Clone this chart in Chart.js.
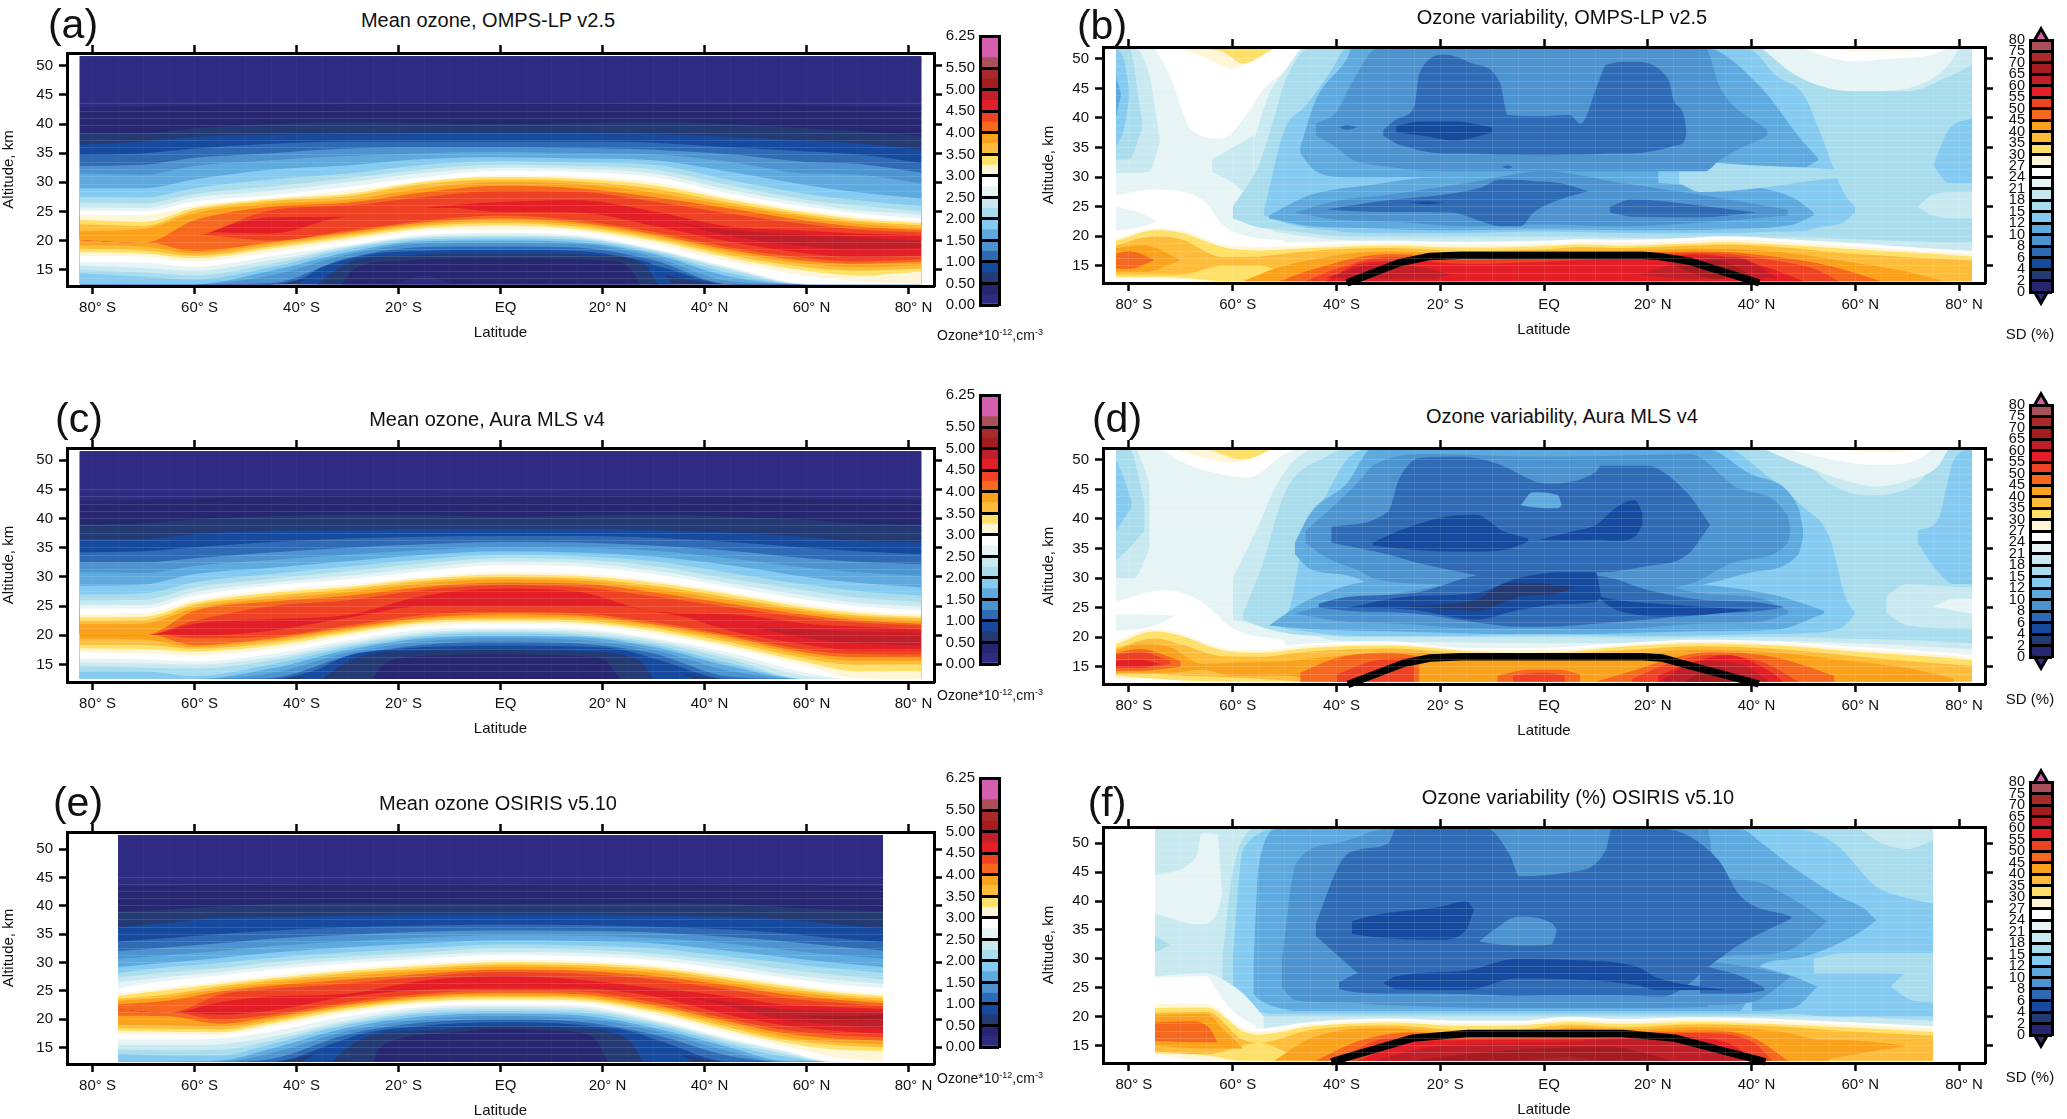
<!DOCTYPE html>
<html>
<head>
<meta charset="utf-8">
<script src="https://cdn.jsdelivr.net/npm/chart.js@4"></script>
<style>
body{margin:0;background:#fff;width:2067px;height:1119px;overflow:hidden;font-family:"Liberation Sans",sans-serif;color:#111}
canvas{position:absolute}
.t{position:absolute;transform:translate(-50%,-50%);white-space:nowrap}
sup{font-size:9px;vertical-align:5px;line-height:0}
</style>
</head>
<body>
<script>
// colour bands, low to high
var bandColours = ['#2e2b80','#272671','#233a72','#164a9f','#2f6ab5','#4d93cf','#5eaade','#85caf0','#a9dded','#c9e9f1','#e6f4f5','#ffffff','#fff6d8','#ffe169','#fdbd3a','#fba21c','#f7681f','#ef4123','#e31e26','#c01f2a','#a41c20','#a82a2a','#a9505a','#d35fae'];
var ozoneLevels = [0,.25,.5,.75,1,1.25,1.5,1.75,2,2.25,2.5,2.75,3,3.25,3.5,3.75,4,4.25,4.5,4.75,5,5.25,5.5,5.75,6.25];
var ozoneTicks = [0,.5,1,1.5,2,2.5,3,3.5,4,4.5,5,5.5,6.25];
var sdTicks = [0,2,4,6,8,10,12,15,18,21,24,27,30,35,40,45,50,55,60,65,70,75,80];
var latTicks = [-80,-60,-40,-20,0,20,40,60,80];
var latLabels = ['80° S','60° S','40° S','20° S','EQ','20° N','40° N','60° N','80° N'];
var altTicks = [15,20,25,30,35,40,45,50];

// panel (a): altitude of each ozone contour (every 0.25) below and above the maximum
var aLat = [-82.5,-70,-60,-45,-30,-15,0,15,30,45,60,70,82.5];
var aLower = [
[12.5,12.5,12.5,12.5,12.5,12.5,12.5,12.5,12.5,12.5,12.5,12.5,12.5],
[12.5,12.5,12.5,12.5,13,16.8,16.9,16.8,12.5,12.5,12.5,12.5,12.5],
[12.5,12.5,12.5,12.5,15.5,17.7,17.8,17.6,14.5,12.5,12.5,12.5,12.5],
[12.5,12.5,12.5,12.5,16.2,18.2,18.4,18.2,15.8,12.5,12.5,12.5,12.5],
[12.5,12.5,12.5,12.7,17,18.9,19,18.8,16.6,12.5,12.5,12.5,12.5],
[12.5,12.5,12.5,14,17.6,19.5,19.6,19.4,17.2,13,12.5,12.5,12.5],
[12.5,12.5,12.5,14.8,18,19.9,20,19.7,17.7,13.8,12.5,12.5,12.5],
[14.4,13.8,13.3,15.4,18.5,20.2,20.4,20.1,18,14.4,12.5,12.5,12.5],
[15,14.5,14,16,18.8,20.5,20.7,20.4,18.3,14.9,12.5,12.5,12.5],
[15.7,15.3,14.8,16.6,19,20.7,21,20.6,18.45,15.2,12.5,12.5,12.5],
[16.3,16.2,15.5,17.3,19.2,21,21.3,20.9,18.6,15.4,12.6,12.5,12.5],
[17.4,17.2,16.4,18,19.9,21.7,22,21.6,19.4,16.4,14,13,12.5],
[18,17.8,17,18.6,20.4,22.1,22.6,22,20,17,14.8,14,14.7],
[18.6,18.3,17.4,19,20.8,22.5,23,22.4,20.4,17.5,15.4,14.8,15.2],
[19.2,19,17.8,19.4,21.1,22.8,23.4,22.8,20.8,18,16,15.4,15.8],
[20.5,20,18.2,19.7,21.4,23.1,23.8,23.1,21.1,18.4,16.5,16,16.3],
[20.5,20,21,20,21.7,23.4,24.3,23.5,21.5,18.8,17,16.4,16.8],
[20.5,20,21.5,21.2,24.5,26,24.9,24.8,22.5,19.8,17.8,17.2,17.4],
[20.5,20,21.5,22.5,24.5,26,26,25.8,24,20.8,19,18.5,18.7]];
var aUpper = [
[20.5,20,21.5,22.5,24.5,26,26,25.8,24,21.8,21,20.6,20],
[20.5,20,21.5,24,24.5,26,26.6,26.9,25,22.4,21.7,21.2,20.9],
[20.5,20,21,25.2,26,27.5,28.5,28.4,26.7,24.6,22.8,21.9,21.4],
[20.5,20,23.5,25.8,26.5,28.3,29.4,29,27.5,25.5,23.4,22.4,21.8],
[21.6,22,24.7,26.3,27,29,30,29.7,28.2,26,24,22.9,22.2],
[22.8,22.5,25.2,26.8,27.6,29.7,30.5,30.2,28.9,26.5,24.4,23.3,22.6],
[23.6,23.2,25.6,27.1,28,30.1,30.9,30.6,29.5,27,24.8,23.7,23],
[24.4,24.4,26,27.3,28.6,30.2,31.2,31,30,27.4,25.2,24.1,23.3],
[25.1,25,26.7,27.8,29.2,30.9,32,31.8,30.9,28.1,25.8,24.7,23.8],
[25.7,25.6,27.4,28.5,30,31.6,32.5,32.3,31.5,28.7,26.4,25.2,24.4],
[26.5,26.4,28,29.3,30.7,32.2,33,32.8,32.2,29.5,27,26,25],
[27.5,27.4,29,30.5,31.5,33,33.6,33.4,33,30.4,28,26.9,25.9],
[29,29,30.5,32.2,32.9,34,34.3,34.1,33.8,31.8,29.5,28.3,27.2],
[31.5,31.3,32.8,33.8,34.5,35,35.2,35,34.8,33.5,31.5,31.3,29.8],
[32.8,33,34.2,35,35.8,36,36,35.9,35.6,34.8,33.5,33.2,31.7],
[34.7,35,35.8,36.6,37,37,37,37,36.8,36,35.3,34.8,33.3],
[36.5,37,37.8,38.2,38.4,38.5,38.5,38.5,38.3,37.8,37.2,36.7,35.6],
[38.5,38.5,39.3,40,40.4,40.2,40,40.2,40.4,40,39.3,38.8,38],
[42.8,43,43.2,43.3,43.4,43.6,43.5,43.6,43.4,43.3,43.2,43,42.9]];
// low-ozone pocket at the bottom of each mean panel, same format as the SD regions
var aPocket = [
[4,[-40,-36,-32,-25,-15,0,15,25,30,34],[12.5,15,16.3,17.7,18.2,18.4,18.2,17,15.8,12.5],12.5],
[2,[-36,-33,-29,-20,0,20,28,31],[12.5,14.5,16.5,17.4,17.8,17.5,16,12.5],12.5],
[0,[-31,-29.5,-27,-20,0,20,25,27.5],[12.5,14.5,15.8,16.5,16.9,16.6,15.5,12.5],12.5],
[-1,[-21,-15,-9],[12.5,14,12.5],12.5]];

// panel (c)
var cLat = aLat;
var cLower = [
[12.5,12.5,12.5,12.5,12.5,12.5,12.5,12.5,12.5,12.5,12.5,12.5,12.5],
[12.5,12.5,12.5,12.5,12.5,16.2,16.8,16.5,12.5,12.5,12.5,12.5,12.5],
[12.5,12.5,12.5,12.5,14,17,17.5,17.2,14.5,12.5,12.5,12.5,12.5],
[12.5,12.5,12.5,12.5,15.5,17.7,18.2,17.9,16,12.5,12.5,12.5,12.5],
[12.5,12.5,12.5,12.7,16.4,18.4,18.9,18.6,16.9,12.9,12.5,12.5,12.5],
[12.5,12.5,12.5,13.5,17,19,19.5,19.2,17.5,13.9,12.5,12.5,12.5],
[12.5,12.5,12.5,14.3,17.5,19.5,19.9,19.7,18,14.7,12.5,12.5,12.5],
[13.8,13.8,13,15,17.9,19.9,20.3,20,18.4,15.2,12.5,12.5,12.5],
[14.7,14.5,14.3,15.7,18.3,20.2,20.6,20.3,18.8,15.9,12.5,12.5,12.5],
[15.3,15.2,15,16.2,18.7,20.5,20.9,20.7,19.2,16.4,13,12.5,12.5],
[16,15.9,15.5,16.8,19.1,21,21.3,21.1,19.5,17,13.6,12.5,12.5],
[17.1,16.9,16.6,17.6,19.8,21.6,22,21.8,20.3,17.8,14.8,12.6,12.5],
[17.8,17.6,17.2,18.2,20.3,22.1,22.4,22.2,20.8,18.3,15.4,13.8,13.9],
[18.4,18.4,17.7,18.7,20.7,22.4,22.8,22.6,21.2,18.8,16,14.9,15],
[19.4,19.3,18,19.1,21,22.7,23.2,23,21.6,19.3,16.6,15.6,15.6],
[20.4,20.4,18.3,19.4,21.3,23,23.6,23.4,21.9,19.7,17,16.2,16.2],
[20.4,20.4,19.5,19.8,21.7,23.5,24,23.8,22.3,20,17.5,16.8,16.7],
[20.4,20.4,20,20.8,23,25,25,25,24.5,20.8,18.4,17.4,17.4],
[20.4,20.4,21,21.8,23.5,26.3,26.5,26.5,24.5,22.3,19.5,18.6,18.3]];
var cUpper = [
[20.4,20.4,21,21.8,23.5,26.3,26.5,26.5,24.5,22.3,21,20.6,20.4],
[20.4,20.4,22,22.8,23.5,26.8,28,27.5,24.5,23.6,22,21.5,21],
[20.4,20.4,22.5,25,26,27.8,28.6,28.3,26.7,24.8,23,22.2,21.7],
[20.4,20.4,24.2,25.8,26.8,28.3,29,28.9,27.4,25.4,23.5,22.6,22],
[21.9,22,24.7,26.3,27.4,28.9,29.6,29.4,28,26,24,23,22.5],
[22.5,22.6,25.2,26.8,27.9,29.3,30,29.8,28.5,26.5,24.4,23.4,22.9],
[23.1,23.2,25.6,27.3,28.3,29.7,30.4,30.2,29,27,24.8,23.8,23.2],
[23.7,23.8,26.1,27.7,28.7,30,30.8,30.6,29.4,27.4,25.3,24.2,23.6],
[24.6,24.6,26.8,28.5,29.6,31,32,31.8,30.5,28.3,26.1,25,24.3],
[25.2,25.2,27.4,29,30.2,31.6,32.6,32.4,31.1,28.9,26.8,25.6,24.9],
[26,26.1,28.2,29.7,31,32.3,33.2,33,31.9,29.7,27.7,26.5,25.7],
[27,27.2,29.1,30.5,31.8,33,33.8,33.6,32.7,30.7,28.7,27.6,26.8],
[28.5,28.7,30.5,31.6,32.7,33.8,34.4,34.2,33.5,32,30,29,28.2],
[30.8,30.7,31.9,32.9,33.8,34.6,35.1,35,34.5,33.2,31.6,30.8,30.2],
[32.5,32.5,33.2,34.2,35,35.6,36,35.9,35.4,34.5,33.2,32.6,32.2],
[34.2,34.4,35.1,36,36.6,36.9,37,37,36.7,36,35,34.4,33.9],
[36.5,36.5,37.3,37.9,38,38.2,38.2,38.2,38,37.6,36.8,36.2,35.9],
[39,39.2,39.9,40.4,40.7,40.6,40.3,40.5,40.7,40.3,39.8,39.2,39],
[43,43.2,43.4,43.8,43.9,43.9,43.8,43.9,43.9,43.6,43.4,43.3,43.2]];
var cPocket = [
[4,[-39,-35,-30,-20,0,20,30,33.5,38],[12.5,14.5,16.5,17.7,18.2,17.9,16,14.5,12.5],12.5],
[2,[-35,-31,-27,-15,0,15,27,30],[12.5,15,16.5,17.4,17.6,17.3,15.8,12.5],12.5],
[0,[-25,-23.5,-20,-10,0,10,20,23.5],[12.5,14.5,16,16.6,16.8,16.6,16,12.5],12.5]];

// panel (e)
var eLat = [-75,-65,-55,-45,-30,-15,0,15,30,45,55,65,75];
var eLower = [
[12.5,12.5,12.5,12.5,12.5,12.5,12.5,12.5,12.5,12.5,12.5,12.5,12.5],
[12.5,12.5,12.5,12.5,12.5,17,18.2,17.8,12.5,12.5,12.5,12.5,12.5],
[12.5,12.5,12.5,12.5,15.5,18,18.8,18.4,15,12.5,12.5,12.5,12.5],
[12.5,12.5,12.5,12.5,16.5,18.8,19.4,19,16.5,12.5,12.5,12.5,12.5],
[12.5,12.5,12.5,13,17.3,19.4,20,19.6,17.3,13.5,12.5,12.5,12.5],
[12.5,12.5,12.5,14,17.9,20,20.5,20.2,18,14.3,12.5,12.5,12.5],
[12.5,12.5,12.7,14.8,18.5,20.5,21,20.7,18.5,15,12.7,12.5,12.5],
[13.9,13.6,13.6,15.6,19,21,21.4,21.2,19,15.5,13.5,12.5,12.5],
[14.6,14.5,14.6,16.2,19.4,21.4,21.8,21.6,19.4,16,14,12.5,12.5],
[15.4,15.4,15.6,16.8,19.8,21.8,22.2,22,19.7,16.3,14.4,12.5,12.5],
[16.4,16.4,16.6,17.8,20.5,22.2,22.6,22.4,20,16.6,14.6,12.6,12.5],
[17.4,17.3,17.2,18.7,21.1,22.7,23.1,22.9,20.8,17.5,15.4,13.4,12.5],
[17.9,17.8,17.7,19.2,21.6,23.1,23.5,23.3,21.3,18,16,14.7,14.4],
[18.4,18.3,18.2,19.6,22,23.5,23.9,23.7,21.7,18.5,16.5,15.5,15],
[19,18.9,18.7,20,22.3,23.8,24.2,24,22.1,19,17,16,15.6],
[20.6,20.5,19.2,20.4,22.6,24.1,24.6,24.4,22.5,19.5,17.6,16.6,16.2],
[22.2,21.5,20,20.8,23,24.5,25,24.9,23,20,18.2,17.2,16.8],
[22.2,21.5,20.8,21.5,24,25.2,25.4,25.4,24,20.7,19,18,17.4],
[22.2,21.5,22,22.5,24.5,25.8,26.5,26.3,25,22.2,20,19,18.3],
[22.2,21.5,22,22.5,24.5,25.8,26.5,26.3,25,23,21,20,19.8]];
var eUpper = [
[22.2,21.5,22,22.5,24.5,25.8,26.5,26.3,25,23,21,20.5,20.8],
[22.2,21.5,22,22.5,24.5,25.8,26.5,26.3,25,23,21.8,21.5,21.3],
[22.2,21.5,23,24,24.5,26.8,27.6,27,25.5,24,22.6,22.2,21.8],
[22.2,21.5,24.3,25.3,26.3,27.5,28.3,28,27,25.2,23.8,23,22.3],
[22.6,23.3,24.9,25.9,27,28,28.8,28.6,27.6,25.9,24.5,23.5,22.8],
[23.2,23.9,25.3,26.4,27.6,28.6,29.3,29.1,28.2,26.4,25,24,23.2],
[23.6,24.4,25.8,26.8,28.1,29,29.7,29.5,28.7,26.9,25.5,24.4,23.7],
[24.1,25.2,26.2,27.2,28.5,29.4,30.1,29.9,29.1,27.3,26,24.8,24.1],
[24.5,25.6,26.6,27.7,28.9,29.8,30.5,30.3,29.5,27.8,26.4,25.2,24.5],
[25.5,26.8,27.7,28.7,29.8,30.7,31.3,31.1,30.4,28.7,27.4,26.2,25.5],
[26.5,27.5,28.3,29.3,30.4,31.2,31.8,31.7,31,29.4,28,27,26.2],
[27.3,28.3,29,30,31,31.8,32.5,32.3,31.6,30.2,28.9,27.9,27],
[28.2,29.2,29.9,30.8,31.8,32.5,33.2,33,32.5,31,30,29,28.2],
[29.2,30,30.8,31.7,32.7,33.4,33.9,33.8,33.4,32,31,30,29.2],
[30.6,31.3,32,32.9,33.7,34.4,34.8,34.7,34.3,33.3,32.3,31.4,30.7],
[32,32.7,33.4,34.2,34.9,35.4,35.7,35.6,35.3,34.5,33.8,32.9,32.1],
[33.7,34.3,35,35.6,36.2,36.5,36.7,36.6,36.3,35.8,35.2,34.3,33.6],
[36.2,37,37.9,38,38.3,38.5,38.5,38.5,38.3,38,37.6,36.8,36],
[39,39.4,39.9,40.3,40.5,40.4,40.3,40.4,40.5,40.3,39.8,39.4,39],
[43.3,43.5,43.7,43.8,43.9,43.9,43.8,43.9,43.9,43.8,43.7,43.5,43.4]];
var ePocket = [
[4,[-39,-34,-28,-15,0,15,28,33,38],[12.5,15,17.2,18.8,19.4,19,17.2,15,12.5],12.5],
[2,[-33,-30,-25,-15,0,15,25,28],[12.5,15,17.3,18,18.8,18.4,16.5,12.5],12.5],
[0,[-25,-24,-20,-10,0,10,18,21],[12.5,14.5,16.5,17.6,18.3,18,17,12.5],12.5]];

// SD panels: [SD level, latitudes, upper altitude, lower altitude], painted in this order
var bTop = 51.8, bBot = 12.4;
var bHotLat = [-82.5,-75,-70,-62,-55,-45,-30,-15,0,7,15,25,35,45,60,70,82.5];
var bShapes = [
[21,[-82.5,82.5],[bTop,bTop],bBot],
[18,[-82.5,-79,-76,-74],[bTop,bTop,47,36],[30.7,30.7,31,36]],
[15,[-82.5,-80,-77.5],[bTop,bTop,40],[33,33,38]],
[12,[-82.5,-81,-80],[bTop,50,45],[35,38,43]],
[10,[-82.5,-81.5],[47,44],[40,44]],
[18,[-64,-60,-56],[33,35,37],[31,29,26]],
[18,[-56,-53,-50,-46,-40,-20,0,20,40,60,82.5],[36,44,48,bTop,bTop,bTop,bTop,bTop,bTop,bTop,bTop],[26,21.5,20.5,20,19.4,19.1,19.3,19,19,18.5,17.5]],
[15,[-60,-55,-52,-50,-45,-40,-20,0,20,40,46,50,60,70,78,82.5],[25,32,40,46,bTop,bTop,bTop,bTop,bTop,bTop,bTop,49,45,44.5,47,49],[23,21.5,21.2,21,20.5,20,19.8,19.9,19.7,19.8,19.8,19.8,19.5,19.2,19,19]],
[18,[72,75,80,82.5],[25,27,27.5,27.5],[25,23.5,23,23]],
[12,[-54,-50,-46,-41,-38,-20,0,20,39,45,50,53,58,60],[24,38,42,48,bTop,bTop,bTop,bTop,bTop,47,44,38,27,25],[23.5,22.3,21.5,21,20.7,20.5,20.8,20.5,20.6,20.8,20.9,21.5,22.5,24]],
[12,[75,78,82.5],[32,38,40],[32,29,29]],
[10,[-47,-44,-38,-37,-20,0,20,31,42,49,53],[35,43,50,bTop,bTop,bTop,bTop,bTop,45,37,33],[34,31,30,30,30,30,30,30,30,31,33]],
[10,[-53,-45,-35,-20,0,20,35,48,52],[23.5,27,28.5,30,30,30,29,26.5,24],[23,21.7,21.4,21,21.2,21,21.2,22,23.5]],
[12,[22,27,33,45,50,55],[31,31.7,31.5,30.8,30.5,30],[29,28.7,28.7,28.4,28,27]],
[15,[26,30,40,53,60],[31,32.5,32,31.5,31],[29,27.5,28,29.5,30]],
[8,[-44,-40,-37,-32,-20,0,20,31,34,43],[39,41,46,bTop,bTop,bTop,bTop,bTop,45,38],[37,35,33,32,31,31,31,31,33,37]],
[8,[-48,-40,-30,-15,0,15,30,47],[24,26,27,29,31,29,27,24.5],[24,22.8,22.5,21.7,22,21.7,22.3,23.5]],
[6,[-31,-28,-25,-24,-19,-14,-8.5,-7,0,5,7,10.5,12,17,24,25,27,27.5],[38,40,42,47.6,50.7,49.3,46,40.5,40.3,40.5,39,46,49,49.5,46.5,43,40.3,37.5],[37,35.5,34.8,34.5,34,34,33.8,33.8,33.7,33.8,33.8,33.9,34,34,35,35.3,36,37.5]],
[6,[-42,-31,-18,-12,-8.5,-4.5,-2,3,8.5],[24.5,26,27.2,28.3,29.6,29.5,29.3,29,27.6],[24.5,24.1,24,22.5,21.7,21.7,24,26.2,27.6]],
[6,[12.7,17,30,41],[25,26.2,25.2,24],[24,23.3,23.2,24]],
[6,[-39.5,-38,-36],[38.4,38.8,38.4],[38.4,38,38.4]],
[6,[-8,-7,-6],[31.7,32,31.7],[31.7,31.4,31.7]],
[4,[-28.5,-24,-17,-10],[38.6,39.4,39.4,38.4],[37.6,37.1,36.2,37.5]],
[4,[-26,-22.5,-19],[25.8,25.9,25.7],[25.7,25.4,25.7]],
[21,[42,48,55,62,72,78,80],bTop,[bTop,47.5,45,44.5,45.5,49,bTop]],
[24,[50,54,60,66,74,78],bTop,[bTop,50.5,49.5,50,50.5,bTop]],
[27,[55,60,70,73],bTop,[bTop,51.3,51.3,bTop]],
[24,[-75,-72,-68,-62,-57,-54,-50,-47],bTop,[bTop,47,38,36.5,41,45,48,bTop]],
[27,[-70,-66,-60,-55,-50],bTop,[bTop,50.5,48.3,51,bTop]],
[30,[-68,-62,-58,-52],bTop,[bTop,51.2,49.2,bTop]],
[24,[-82.5,-76,-70,-65,-62,-57,-50],[26.8,27.9,27.6,25.5,22,20,19.3],18],
[21,[-82.5,-78,-74.5],[25,24,22.5],[21,21.5,22.5]],
[24,bHotLat,[20,21.5,21.5,19.3,18.8,19,19.3,19,19.2,19.5,19.4,19.6,20,19.6,18.8,18.2,17.5],bBot],
[27,bHotLat,[19.6,21.3,21,18.6,18.2,18.5,18.8,18.6,18.7,19,18.9,19.1,19.5,19.1,18.3,17.7,17],[12.9,12.9,12.7,bBot,bBot,bBot,bBot,bBot,bBot,bBot,bBot,bBot,bBot,bBot,bBot,bBot,bBot]],
[30,bHotLat,[19.2,21,20.6,18.2,17.6,18,18.4,18.1,18.3,18.6,18.4,18.7,19,18.6,17.8,17.3,16.6],[13.1,13.1,13,bBot,bBot,bBot,bBot,bBot,bBot,bBot,bBot,bBot,bBot,bBot,bBot,bBot,bBot]],
[35,bHotLat,[18.5,20,19.5,16.5,16.6,17.5,18,17.5,17.8,18.2,18,18.3,18.6,18.2,17,16.5,15.9],[13.5,13.5,13.5,15,15,bBot,bBot,bBot,bBot,bBot,bBot,bBot,bBot,bBot,bBot,bBot,bBot]],
[40,[-82.5,-77,-70],[18,18.5,16],[14,14,16]],
[40,[-58,-52,-45,-30,-15,0,15,30,45,60,70,77],[bBot,14.5,16,17.5,17,17.4,17.5,17.9,17.4,15.5,14,bBot],bBot],
[45,[-82.5,-80,-75],[17,17.5,16],[14.5,14.5,16]],
[45,[-51,-45,-30,-15,0,15,30,45,55,65],[bBot,14.3,17,16.5,16.9,17.1,17.5,16.5,15,bBot],bBot],
[50,[-46,-40,-30,-15,0,15,30,45,52,57],[bBot,14.5,16.5,16,16.4,16.7,17.2,15.8,14.5,bBot],bBot],
[55,[-42,-35,-25,-15,0,15,30,42,50],[bBot,15.5,15.8,15.3,15.7,16.3,16.9,15,bBot],bBot],
[60,[-42,-32,-22,-18],[13,15.3,14.5,13.5],[13,12.8,12.8,13.5]],
[60,[18,28,37,45],[13.5,16,16.4,13],[13.5,12.8,12.8,13]],
[65,[25,33,40],[15,16,13.5],[15,12.8,13.5]]];
var bTropLat = [-38,-28,-22,-16,19,22,28,41.5];
var bTropAlt = [12.1,15.5,16.6,16.8,16.8,16.6,15.8,12.1];

var dTop = 51.9, dBot = 12.5;
var dHotLat = [-82.5,-75,-70,-62,-55,-45,-30,-15,-5,5,15,30,45,60,70,82.5];
var dShapes = [
[21,[-82.5,82.5],[dTop,dTop],dBot],
[18,[-82.5,-79,-76],[dTop,dTop,46],[30,30,35]],
[15,[-82.5,-80,-77],[dTop,dTop,43],[33,35,38]],
[12,[-82.5,-81,-79.5],[50,47,43],[38,40,42]],
[18,[-60,-55,-52,-48,-43,-41,-20,0,20,40,60,82.5],[30,39,45,50,dTop,dTop,dTop,dTop,dTop,dTop,dTop,dTop],[23,22,21,20.5,20,19.5,19.2,19,19,19.4,19,18]],
[15,[-58,-54,-51,-49,-42,-38,-20,0,20,38,47,55,62,72,78,82.5],[24,33,42,46,50.5,dTop,dTop,dTop,dTop,dTop,dTop,46,44,46,dTop,dTop],[23,21.6,21,20.6,20.3,20,20,20,19.8,20,20,19.8,19.7,19.5,19.2,19]],
[12,[-52,-49,-46,-42,-38,-33,-20,0,20,35,42,50,55,58,60],[22.5,25,38,44,50,dTop,dTop,dTop,dTop,dTop,48,42,37,27,24],[22,21.3,21,20.5,20.3,20.2,20.2,20.5,20.2,20.4,20.5,20.7,21,22,24]],
[12,[72,76,79,82.5],[38,40,50,dTop],[36,31,29,29]],
[18,[66,70,80,82.5],[27,29,28.5,28.5],[24,22,21.5,21.5]],
[21,[75,79,82.5],[25.2,26.5,26.5],[25.2,24.5,24]],
[10,[-48,-45,-38,-33,-20,0,20,31,40,49,50],[36,41,46,dTop,dTop,dTop,dTop,dTop,47.5,42,38],[34,31.5,30.5,29,28,28,28,29,31,34,37]],
[10,[-53,-45,-30,-12,0,12,30,45,54],[22,26.5,30,30.5,31,30.5,29,27,24.5],[22,21.4,21,20.6,20.5,20.6,21,21.3,24]],
[8,[-46,-42,-35,-33,-22,0,20,28,38,47,47.5],[38,41,47,49,51,50.5,50.8,51,45,40.5,38],[36,33.5,31,30,29,28,28,29,33,36,38]],
[8,[-48,-40,-28,-12,0,12,30,42,47],[24,26,27.5,30,31.5,31,27.5,26.5,24.5],[24,22.8,22.3,21.5,21.5,21.3,22.3,22.7,24]],
[6,[-41,-30,-28,-24,-16,-8,-3.5,0,10,11,19.6,27.7,32],[38.7,41.3,46.6,50.3,50.5,49,47,46,48,49,49,44.3,39],[36,34,33.5,32.5,31,30,30,30,31,31,32,34,39]],
[6,[-43.4,-38,-25,-13,-5,0,13,20,31,40,46],[25.7,26.8,27.5,30.5,31,31,30,28,26.3,26,25.2],[25,24.5,24,22.5,21.8,21.8,22.5,23,24,24.3,25]],
[10,[-4.5,-2.2,2.7,3.4],[42.3,44.5,44,42.3],[42.3,42,41.8,42.3]],
[4,[-33,-28,-18,-13,-8,-3],[36,38,40.5,40.7,38,36.7],[35.5,35,34.5,34.5,34.7,36.2]],
[4,[-1,6,10,14,17.5,19],[36.5,38,39,42,43.2,41],[36.5,36.4,36.5,36.3,37,39]],
[4,[-38,-26,-13,-5,3,10,11],[25,26.9,27.5,30,31,31,27],[25,24.7,23,24.6,25.6,26,27]],
[4,[10,14,25,40],[27,26.3,25.5,24.6],[27,24.6,23.5,24.6]],
[2,[-27,-13,-10,-8,-5,3,6],[25.2,26.4,28,29,29.2,28.8,28.5],[25.2,24.5,25,25.8,26.8,27.5,28.5]],
[21,[42,50,58,64,70,76,78],dTop,[dTop,49,46.5,45.5,46.5,49,dTop]],
[24,[47,53,60,66,72,75],dTop,[dTop,50.5,49.4,49.2,50,dTop]],
[27,[55,60,68,72],dTop,[dTop,51.5,51.3,dTop]],
[24,[-74,-70,-62,-57,-50,-47],dTop,[dTop,49.7,47.5,47,51,dTop]],
[27,[-72,-68,-60,-53],dTop,[dTop,51,49.5,dTop]],
[30,[-65,-58,-52],dTop,[dTop,50,dTop]],
[24,[-82.5,-73,-66,-60,-50],[26,28,26,21.5,19.5],18],
[21,[-82.5,-75,-71],[23.9,23.8,23.7],[21,22,23.7]],
[24,dHotLat,[19.8,21.8,21,18.7,18.2,19,19.3,18.2,18.2,18.4,19,19.6,19.3,18.4,17.9,17],dBot],
[27,dHotLat,[19.4,21.4,20.6,18.2,17.8,18.6,18.9,17.9,17.8,18,18.7,19.3,19,18,17.5,16.6],[13,13,13,dBot,dBot,dBot,dBot,dBot,dBot,dBot,dBot,dBot,dBot,dBot,dBot,dBot]],
[30,dHotLat,[18.8,21,20.2,17.8,17.4,18.2,18.6,17.7,17.4,17.6,18.4,19,18.6,17.6,17,16.2],[13.5,13,12.7,dBot,dBot,dBot,dBot,dBot,dBot,dBot,dBot,dBot,dBot,dBot,dBot,dBot]],
[35,dHotLat,[18.2,19.8,18.8,16.8,16.7,17.6,18.1,17.3,17.2,17.3,17.8,18.5,18,16.8,16,15.2],[13.8,13.8,13.5,13.3,13,dBot,dBot,dBot,dBot,dBot,dBot,dBot,dBot,dBot,dBot,dBot]],
[40,[-82.5,-78,-72,-66,-60,-50,-40,-30,-15,0,15,30,45,60,70,79],[17.8,18.9,18.3,15.5,15.7,16,16.8,17.5,17,16.9,17.1,17.9,17.4,15.9,14.8,13],[14,14,14,14.5,13.5,13.5,dBot,dBot,dBot,dBot,dBot,dBot,dBot,dBot,dBot,dBot]],
[45,[-82.5,-78,-70],[17.4,18,16],[14.3,14.3,15]],
[45,[-47,-40,-30,-24],[14,16.5,17.3,16.8],dBot],
[45,[-9,-3,3,7],[13.5,14.5,14.5,13.7],dBot],
[45,[10,17,25,32,45,56],[dBot,14.3,16.5,17.5,16.5,13.5],dBot],
[50,[-82.5,-78,-72],[17,17.5,16],[14.8,14.8,15.5]],
[50,[-40,-33,-25],[13.7,16,16.5],dBot],
[50,[-6,0,4],[13.5,14,13.5],dBot],
[50,[17,23,32,42,49],[13,15.2,17,15.8,dBot],dBot],
[55,[-82.5,-78,-74],[16,16.2,15.5],[15,15,15.5]],
[55,[22,28,35,44,46],[13.5,15.5,17,14,dBot],dBot],
[60,[23,30,38,43],[13,16,15.5,12.8],dBot],
[65,[27,33,38],[dBot,15,13],dBot]];
var dTropLat = [-37.8,-27,-22,-16,19,22.7,27.7,41.4];
var dTropAlt = [12,15.6,16.5,16.7,16.7,16.5,15.3,12.1];

var fTop = 52.5, fBot = 12.4;
var fHotLat = [-75,-65,-58,-55,-45,-30,-15,-5,5,15,30,45,60,75];
var fShapes = [
[18,[-75,75],[fTop,fTop],fBot],
[21,[-75,-67,-66,-63,-62],[44.5,47.7,51.7,51.5,41.3],[37.9,36,36,38,41.3]],
[15,[-62,-60,-55,-40,0,40,60,65,70,75],[30,45,fTop,fTop,fTop,fTop,fTop,50,49,50.5],[25,23,20,20,20,20,20,19.8,19.5,19.3]],
[15,[-75,-73,-72],[34,33,32.5],[31,32,32.5]],
[12,[-60,-58,-50,0,47,56,64,70,75],[30,49,fTop,fTop,fTop,50,42.5,40.5,39.6],[24,22,20.5,20.5,20.5,20,20,20,20]],
[15,[67,71,75],[25.5,28,28],[25,22.8,22.5]],
[15,[52,58,65,75],[30,31,31,31],[27.5,27.5,27.5,27]],
[10,[-56,-55,-51,-48,0,37.7,42,47.7,56.4,62,64],[29,46,fTop,fTop,fTop,fTop,50,46,41,38.5,36.7],[24,23,21.5,21,21,21,29,30,32.5,35.3,36.7]],
[10,[40,48,52.7],[29,27,25.2],[21,21.5,25.2]],
[8,[-50.5,-47.8,-40,-30,0,31.5,33,40,47.7,54.6],[30,46.5,50,fTop,fTop,fTop,45,43.5,40.5,36.5],[25,22.8,22.5,22,21.5,21.7,30,30.7,31.7,36.5]],
[8,[30,40,47.7],[29.8,28.5,27],[22,22.5,27]],
[6,[-44,-39,-35,-30,-28.5,-11,-6.6,-4.7,5.2,12,13,22.7,33.7,37.7,47.7],[36,47,49,50,fTop,fTop,48,44.3,45,49,fTop,fTop,47,41,37.3],[34,30,27,24,24,23.8,23.6,23.6,23.7,23.7,23.7,23.5,30,32.5,37]],
[6,[-39.5,-36,-30],[26,27.5,29],[24.8,24.2,24]],
[6,[30,38,42.5],[29,27,25],[24,24,24.5]],
[8,[-12.5,-9.7,-5,1.5,2.5],[33,35,37.3,36.2,35],[33,32.6,32.3,32.5,35]],
[4,[-37,-33,-20,-15,-13.5],[36.5,37.5,39,40,38.5],[34.3,33.8,33.3,35,38.5]],
[4,[-31,-28.5,-15,-5.4,5,17.7,22,35],[25.8,27,28,30,29.8,28.7,26.7,24.6],[25.8,24.8,24.6,26.6,26.5,25.5,24.6,24.6]],
[21,[-75,-65,-62,-58,-54],[27,27.5,26.5,24,20],[20,20,20,18.5,18]],
[24,[-75,-65,-63.5,-60,-55.5],[26.8,27,25,21,18.5],18],
[24,fHotLat,[22.8,22.8,18.5,18,19.1,19.7,19.3,19.3,20,19.6,19.9,19.6,19,18.4],fBot],
[27,fHotLat,[22.2,22.2,18,17.4,18.7,19.3,18.9,18.9,19.5,19.2,19.5,19.2,18.6,18],[13.5,fBot,fBot,fBot,fBot,fBot,fBot,fBot,fBot,fBot,fBot,fBot,fBot,fBot]],
[30,fHotLat,[21.5,21.6,17.5,16.9,18.3,19,18.4,18.5,19.1,18.8,19.1,18.7,18.1,17.4],[13.7,13.3,fBot,fBot,fBot,fBot,fBot,fBot,fBot,fBot,fBot,fBot,fBot,fBot]],
[35,fHotLat,[20.7,20.8,16,15.5,17.7,18.5,17.7,17.8,18.6,18.2,18.7,18.3,17.4,16.7],[14,13.5,15,15.5,fBot,fBot,fBot,fBot,fBot,fBot,fBot,fBot,fBot,fBot]],
[40,[-75,-65,-62,-58],[20.3,20.5,18,14.5],[15,14.5,14.5,14.5]],
[40,[-52,-45,-30,-15,0,5,15,30,45,55],[fBot,16.3,18,17.1,17.2,18.2,17.8,18.2,17.5,15.5],fBot],
[40,[53,60,70],[16,15.9,15],[fBot,13.5,15]],
[45,[-75,-68,-64,-63],[19,19.2,17.5,15.6],[15.8,15.6,15.6,15.6]],
[45,[-44,-35,-25,-15,0,5,15,30,40,47],[fBot,16,17.3,16.5,16.7,17.6,17.4,17.6,16.5,fBot],fBot],
[50,[-40,-30,-15,0,15,30,40,44],[fBot,16.3,16.3,16.4,16.8,17.2,15.8,fBot],fBot],
[55,[-36,-25,0,25,35,41],[fBot,15.8,16,16.5,15.6,fBot],fBot],
[60,[-33,-20,0,20,32,38],[fBot,15,15.5,16.3,15.2,fBot],fBot],
[65,[-25,-10,0,12,25],[fBot,14,14.5,14.8,fBot],fBot],
[70,[-5,5,10],[fBot,13,fBot],fBot]];
var fTropLat = [-41,-25.3,-14.7,15.2,25.2,42.7];
var fTropAlt = [12.2,16.3,17.1,17.1,16.3,12.2];

function line(lat, alt, extra) {
  return Object.assign({
    type: 'line', pointRadius: 0, borderWidth: 0, tension: 0, cubicInterpolationMode: 'monotone',
    fill: false, data: lat.map(function (x, i) { return {x: x, y: alt[i]}; })
  }, extra);
}

// contour stack: every curve is filled up to the top of the data.
// Where a band closes (upper contour = lower contour) the upper curve is dropped a little
// so the closed bands are fully painted over and leave no hairline.
function stackSets(lat, lows, highs, bottom, top) {
  var sets = [];
  var add = function (alt, c) { sets.unshift(line(lat, alt, {backgroundColor: bandColours[c], fill: {value: top}})); };
  add(lat.map(function () { return bottom; }), 0);
  lows.forEach(function (alt, i) { add(alt, i + 1); });
  highs.forEach(function (alt, i) {
    var k = highs.length - 1 - i;
    add(alt.map(function (v, j) { return v <= lows[k][j] ? v - 0.4 : v; }), k);
  });
  return sets;
}

// nested regions: first array entry painted first, so it goes last in the dataset list
function shapeSets(shapes) {
  var sets = [];
  shapes.forEach(function (s) {
    var col = bandColours[sdTicks.indexOf(s[0]) + 1], lat = s[1], hi = s[2], lo = s[3];
    if (typeof lo === 'number') {
      sets.unshift(line(lat, hi, {backgroundColor: col, fill: {value: lo}}));
    } else if (typeof hi === 'number') {
      sets.unshift(line(lat, lo, {backgroundColor: col, fill: {value: hi}}));
    } else {
      sets.unshift(line(lat, hi, {backgroundColor: col, fill: '+1'}), line(lat, lo, {}));
    }
  });
  return sets;
}

function fixedTicks(values) {
  return function (scale) { scale.ticks = values.map(function (v) { return {value: v}; }); };
}
function fitH(h) { return function (s) { s.height = h; }; }
function fitW(w) { return function (s) { s.width = w; }; }

var labelFont = {family: 'Liberation Sans', size: 15};

function place(el, left, top, w, h) {
  el.style.left = left + 'px'; el.style.top = top + 'px';
  el.width = w; el.height = h; el.style.width = w + 'px'; el.style.height = h + 'px';
}

function drawPanel(box, yLabelW, datasets, gridAlpha, gridTop, vertAlpha) {
  var cv = document.createElement('canvas');
  document.body.appendChild(cv);
  var topH = 20, botH = 56, rightH = 30;
  place(cv, box.l - yLabelW, box.t - topH, yLabelW + box.r - box.l + rightH, topH + box.b - box.t + botH);
  var outer = {
    type: 'linear', min: -85, max: 85, afterBuildTicks: fixedTicks(latTicks),
    grid: {drawOnChartArea: false, tickLength: 8, tickWidth: 2.5, tickColor: '#000'},
    border: {color: '#000', width: 3, z: 3}
  };
  new Chart(cv, {
    type: 'line',
    data: {datasets: datasets},
    options: {
      responsive: false, animation: false, events: [],
      layout: {padding: 0, autoPadding: false},
      plugins: {legend: {display: false}, title: {display: false}, tooltip: {enabled: false}},
      scales: {
        x: Object.assign({}, outer, {
          position: 'bottom', afterFit: fitH(botH),
          ticks: {autoSkip: false, maxRotation: 0, color: '#111', font: labelFont, padding: 5, labelOffset: 5,
            callback: function (v) { return latLabels[latTicks.indexOf(v)]; }},
          title: {display: true, text: 'Latitude', color: '#111', font: labelFont, padding: 0}
        }),
        xTop: Object.assign({}, outer, {position: 'top', afterFit: fitH(topH), ticks: {display: false}}),
        y: {
          type: 'linear', position: 'left', min: box.yMin, max: box.yMax, afterBuildTicks: fixedTicks(altTicks), afterFit: fitW(yLabelW),
          grid: {drawOnChartArea: false, tickLength: 8, tickWidth: 2.5, tickColor: '#000'},
          border: {color: '#000', width: 3, z: 3},
          ticks: {autoSkip: false, color: '#111', font: labelFont, padding: 6},
          title: {display: true, text: 'Altitude, km', color: '#111', font: labelFont, padding: 0}
        },
        yRight: {
          type: 'linear', position: 'right', min: box.yMin, max: box.yMax, afterBuildTicks: fixedTicks(altTicks), afterFit: fitW(rightH),
          grid: {drawOnChartArea: false, tickLength: 8, tickWidth: 2.5, tickColor: '#000'},
          border: {color: '#000', width: 3, z: 3}, ticks: {display: false}
        },
        // faint lines of the original data grid
        xGrid: {
          type: 'linear', position: 'top', min: -85, max: 85, afterFit: fitH(0),
          ticks: {display: false, stepSize: 5}, border: {display: false},
          grid: {z: 1, drawTicks: false, color: 'rgba(255,255,255,' + vertAlpha + ')'}
        },
        yGrid: {
          type: 'linear', position: 'right', min: box.yMin, max: box.yMax, afterFit: fitW(0),
          ticks: {display: false, stepSize: 1.25}, border: {display: false},
          grid: {z: 1, drawTicks: false, lineWidth: 1, color: function (c) {
            return c.tick && c.tick.value > gridTop ? 'rgba(255,255,255,0)' : 'rgba(255,255,255,' + gridAlpha + ')';
          }}
        }
      }
    }
  });
}

function tropLine(lat, alt) {
  return line(lat, alt, {borderWidth: 7.5, borderColor: '#000', cubicInterpolationMode: 'default', clip: false, borderJoinStyle: 'round'});
}

function drawBar(left, labelW, barW, top, bottom, min, max, tickVals, tickFmt, sets, fontSize) {
  var cv = document.createElement('canvas');
  var pad = 20;
  document.body.appendChild(cv);
  place(cv, left, top - pad, labelW + barW + 8, bottom - top + 2 * pad);
  new Chart(cv, {
    type: 'bar',
    data: {labels: [''], datasets: sets},
    options: {
      responsive: false, animation: false, events: [],
      layout: {padding: {top: pad, bottom: pad, right: 8}, autoPadding: false},
      plugins: {legend: {display: false}, title: {display: false}, tooltip: {enabled: false}},
      scales: {
        x: {display: false, stacked: false},
        y: {
          type: 'linear', position: 'left', min: min, max: max, afterBuildTicks: fixedTicks(tickVals), afterFit: fitW(labelW),
          grid: {z: 1, color: '#000', lineWidth: 3, drawTicks: false},
          border: {color: '#000', width: 3, z: 2},
          ticks: {autoSkip: false, color: '#111', padding: 5, font: {family: 'Liberation Sans', size: fontSize}, callback: tickFmt}
        },
        yEdge: {
          type: 'linear', position: 'right', min: min, max: max, afterFit: fitW(0),
          grid: {drawOnChartArea: false, drawTicks: false}, border: {color: '#000', width: 3, z: 2}, ticks: {display: false}
        }
      }
    }
  });
}

function barBand(lo, hi, col) {
  return {data: [[lo, hi]], backgroundColor: col, barPercentage: 1, categoryPercentage: 1, grouped: false, borderWidth: 0, order: 0};
}
function ozoneBar(top, bottom) {
  var sets = [];
  for (var i = 0; i + 1 < ozoneLevels.length; i++) sets.push(barBand(ozoneLevels[i], ozoneLevels[i + 1], bandColours[i]));
  drawBar(935, 45, 19, top, bottom, 0, 6.25, ozoneTicks, function (v) { return v.toFixed(2); }, sets, 15);
}
function sdBar(top, bottom) {
  var idx = sdTicks.map(function (v, i) { return i; });
  var sets = [];
  function end(y, col, rot) {
    return {type: 'line', data: [y], pointStyle: 'triangle', pointRadius: 10, pointRotation: rot, pointBackgroundColor: col,
      pointBorderColor: '#000', pointBorderWidth: 3, clip: false, showLine: false, order: 1};
  }
  sets.push(end(22.1, bandColours[23], 0), end(-0.1, bandColours[0], 180));
  for (var i = 0; i < 22; i++) sets.push(barBand(i, i + 1, bandColours[i + 1]));
  drawBar(1993, 37, 22, top, bottom, 0, 22, idx, function (v) { return String(sdTicks[v]); }, sets, 14.5);
}

function text(html, x, y, size) {
  var d = document.createElement('div');
  d.className = 't'; d.innerHTML = html;
  d.style.left = x + 'px'; d.style.top = y + 'px'; d.style.fontSize = size + 'px';
  document.body.appendChild(d);
}

var L = 67, R = 934, L2 = 1103, R2 = 1985;
drawPanel({l: L, r: R, t: 53, b: 286, yMin: 12.2, yMax: 52.2}, 67, shapeSets(aPocket).concat(stackSets(aLat, aLower, aUpper, 12.5, 51.6)), 0.13, 44, 0.03);
drawPanel({l: L, r: R, t: 448, b: 682, yMin: 12, yMax: 52.1}, 67, shapeSets(cPocket).concat(stackSets(cLat, cLower, cUpper, 12.5, 51.5)), 0.13, 45, 0.03);
drawPanel({l: L, r: R, t: 832, b: 1064, yMin: 12.1, yMax: 53}, 67, shapeSets(ePocket).concat(stackSets(eLat, eLower, eUpper, 12.5, 52.4)), 0.13, 45, 0.03);
drawPanel({l: L2, r: R2, t: 47, b: 283, yMin: 12.1, yMax: 52}, 63, [tropLine(bTropLat, bTropAlt)].concat(shapeSets(bShapes)), 0.16, 60, 0.09);
drawPanel({l: L2, r: R2, t: 448, b: 684, yMin: 12.1, yMax: 52}, 63, [tropLine(dTropLat, dTropAlt)].concat(shapeSets(dShapes)), 0.16, 60, 0.09);
drawPanel({l: L2, r: R2, t: 827, b: 1063, yMin: 12, yMax: 52.8}, 63, [tropLine(fTropLat, fTropAlt)].concat(shapeSets(fShapes)), 0.16, 60, 0.09);

ozoneBar(36, 305); ozoneBar(395, 664); ozoneBar(778, 1047);
sdBar(40, 292); sdBar(405, 657); sdBar(782, 1035);

text('Mean ozone, OMPS-LP v2.5', 488, 20, 20);
text('Ozone variability, OMPS-LP v2.5', 1562, 17, 20);
text('Mean ozone, Aura MLS v4', 487, 419, 20);
text('Ozone variability, Aura MLS v4', 1562, 416, 20);
text('Mean ozone OSIRIS v5.10', 498, 803, 20);
text('Ozone variability (%) OSIRIS v5.10', 1578, 797, 20);
text('(a)', 73, 24, 41); text('(b)', 1102, 25, 41); text('(c)', 79, 418, 41);
text('(d)', 1117, 418, 41); text('(e)', 78, 802, 41); text('(f)', 1107, 802, 41);
var ozoneUnit = 'Ozone*10<sup>-12</sup>,cm<sup>-3</sup>';
text(ozoneUnit, 990, 335, 14); text(ozoneUnit, 990, 695, 14); text(ozoneUnit, 990, 1078, 14);
text('SD (%)', 2030, 333, 15); text('SD (%)', 2030, 698, 15); text('SD (%)', 2030, 1076, 15);
</script>
</body>
</html>
